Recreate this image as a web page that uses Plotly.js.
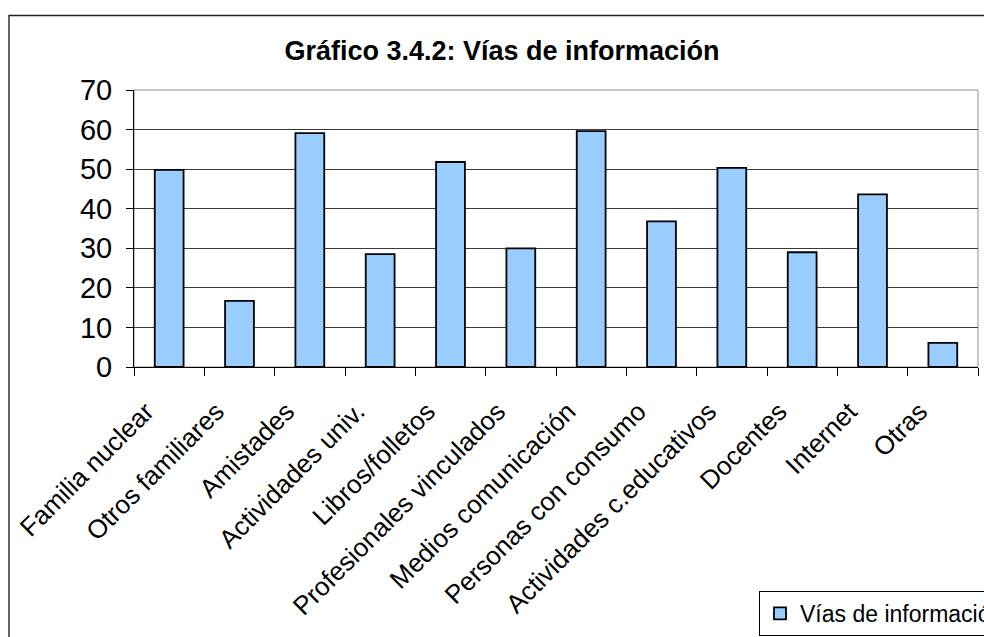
<!DOCTYPE html>
<html>
<head>
<meta charset="utf-8">
<script src="https://cdn.plot.ly/plotly-3.0.1.min.js"></script>
<style>
  html, body { margin: 0; padding: 0; background: #fff; }
  #chart { width: 984px; height: 637px; }
</style>
</head>
<body>
<div id="chart"></div>
<script>
const categories = [
  "Familia nuclear", "Otros familiares", "Amistades", "Actividades univ.",
  "Libros/folletos", "Profesionales vinculados", "Medios comunicación",
  "Personas con consumo", "Actividades c.educativos", "Docentes", "Internet", "Otras"
];
const values = [49.8, 16.7, 59.1, 28.5, 51.8, 30.0, 59.6, 36.8, 50.3, 29.0, 43.6, 6.1];
const seriesName = "Vías de información";
const chartTitle = "Gráfico 3.4.2: Vías de información";
const yTicks = [0, 10, 20, 30, 40, 50, 60, 70];

const FONT = "Liberation Sans, Arial, sans-serif";

const trace = {
  type: "bar",
  x: categories,
  y: values,
  name: seriesName,
  showlegend: true,
  marker: { color: "#99CCFF", line: { color: "#000000", width: 1.8 } },
  hoverinfo: "x+y"
};

const layout = {
  width: 984,
  height: 637,
  margin: { l: 134, r: 6, t: 90, b: 270, pad: 0, autoexpand: false },
  paper_bgcolor: "#ffffff",
  plot_bgcolor: "#ffffff",
  bargap: 0.59,
  font: { family: FONT, color: "#000" },
  title: {
    text: "<b>" + chartTitle + "</b>",
    font: { family: FONT, size: 27, color: "#000" },
    x: 502 / 984, xref: "container", xanchor: "center",
    y: 1 - 51 / 637, yref: "container", yanchor: "middle"
  },
  xaxis: {
    type: "category",
    tickangle: -45,
    tickson: "boundaries",
    ticks: "outside",
    ticklen: 8,
    tickcolor: "#000",
    tickwidth: 1,
    showline: true,
    linecolor: "#000",
    linewidth: 1,
    showgrid: false,
    ticklabelstandoff: 18,
    ticklabelshift: -23,
    tickfont: { family: FONT, size: 26, color: "#000" },
    automargin: false
  },
  yaxis: {
    range: [0, 70],
    tickvals: yTicks,
    ticktext: yTicks.map(String),
    ticks: "outside",
    ticklen: 7,
    tickcolor: "#000",
    tickwidth: 1,
    showline: true,
    linecolor: "#000",
    linewidth: 1,
    showgrid: true,
    gridcolor: "#3a3a3a",
    gridwidth: 1,
    zeroline: false,
    ticklabelstandoff: 8,
    tickfont: { family: FONT, size: 29, color: "#000" },
    automargin: false
  },
  legend: {
    x: (759 - 134) / 844, xanchor: "left",
    y: (367 - 591) / 277, yanchor: "top",
    bgcolor: "#ffffff",
    bordercolor: "#000",
    borderwidth: 1,
    font: { family: FONT, size: 23, color: "#000" },
    itemwidth: 30
  },
  shapes: [
    {
      type: "rect", xref: "paper", yref: "paper",
      x0: 0, x1: 1, y0: 0, y1: 1,
      line: { color: "#909090", width: 1 }, layer: "below"
    },
    {
      type: "rect", xref: "paper", yref: "paper",
      x0: (9 - 134) / 844, x1: 1.2,
      y0: -1.5, y1: (367 - 15.5) / 277,
      line: { color: "#222", width: 1.4 }, layer: "below"
    }
  ]
};

Plotly.newPlot("chart", [trace], layout, { displayModeBar: false, staticPlot: true });
</script>
</body>
</html>
